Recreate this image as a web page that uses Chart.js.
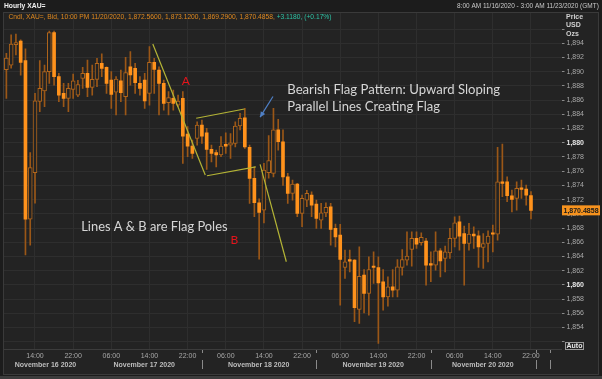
<!DOCTYPE html>
<html>
<head>
<meta charset="utf-8">
<script src="https://cdn.jsdelivr.net/npm/chart.js@4"></script>
<style>
html, body { margin: 0; padding: 0; background: #1e1e1e; }
canvas { display: block; }
</style>
</head>
<body>
<canvas id="chart" width="602" height="379"></canvas>
<script>
// hourly candles, 8:00 Nov 16 -> 22:00 Nov 20 (GMT)
const openP = [1890.3, 1890.9, 1893.8, 1894.3, 1891.55, 1869.25, 1875.8, 1885.8, 1887.3, 1890.0,
    1895.5, 1889.3, 1886.95, 1886.25, 1887.5, 1886.7, 1889.06, 1889.77, 1887.8, 1888.92,
    1891.18, 1890.6, 1888.83, 1887.1, 1888.73, 1886.5, 1890.7, 1890.47, 1888.36, 1888.83,
    1886.95, 1891.32, 1890.24, 1888.36, 1885.64, 1886.25, 1885.3, 1886.25, 1881.22, 1879.53,
    1880.6, 1882.49, 1881.41, 1879.06, 1878.6, 1878.27, 1879.77, 1879.67, 1879.9, 1882.35,
    1883.52, 1879.34, 1874.98, 1871.55, 1870.5, 1875.8, 1875.68, 1881.8, 1880.14, 1875.2,
    1872.87, 1874.18, 1870.05, 1871.93, 1872.63, 1871.36, 1869.1, 1870.14, 1870.98, 1867.94,
    1867.0, 1862.44, 1863.57, 1863.48, 1856.53, 1861.36, 1858.78, 1862.63, 1862.44, 1860.43,
    1858.31, 1859.72, 1859.25, 1862.44, 1863.48, 1864.98, 1866.53, 1865.92, 1866.15, 1863.0,
    1862.77, 1864.79, 1863.71, 1864.51, 1866.53, 1868.88, 1867.23, 1865.82, 1867.14, 1866.9,
    1865.26, 1865.82, 1867.33, 1867.14, 1874.5, 1874.5, 1872.54, 1872.16, 1873.66, 1873.48,
    1872.56];
const highP = [1892.6, 1895.2, 1895.3, 1894.5, 1893.2, 1878.6, 1886.95, 1891.55, 1890.94, 1895.73,
    1895.73, 1889.77, 1888.36, 1888.36, 1889.67, 1888.8, 1890.6, 1891.65, 1890.94, 1891.88,
    1892.5, 1890.7, 1890.0, 1889.3, 1890.24, 1892.02, 1892.82, 1891.18, 1889.3, 1889.77,
    1893.52, 1891.88, 1890.7, 1888.83, 1887.2, 1887.4, 1886.7, 1887.2, 1882.26, 1880.37,
    1882.96, 1883.2, 1882.02, 1879.67, 1878.97, 1880.85, 1881.41, 1881.3, 1882.96, 1884.13,
    1884.84, 1879.67, 1876.6, 1872.1, 1877.1, 1881.0, 1884.84, 1883.3, 1881.8, 1875.7,
    1874.74, 1874.3, 1872.63, 1873.3, 1873.1, 1871.93, 1871.46, 1871.55, 1871.46, 1868.55,
    1868.5, 1864.9, 1864.9, 1863.57, 1865.35, 1862.16, 1863.95, 1864.65, 1863.95, 1862.16,
    1861.13, 1862.16, 1863.57, 1864.98, 1867.47, 1867.47, 1867.47, 1867.33, 1866.53, 1864.65,
    1867.47, 1865.12, 1865.45, 1867.94, 1869.58, 1869.67, 1868.27, 1868.64, 1868.17, 1867.61,
    1867.23, 1867.61, 1868.41, 1879.34, 1879.81, 1875.2, 1873.34, 1874.5, 1874.74, 1874.04,
    1873.12];
const lowP = [1886.25, 1890.5, 1892.35, 1889.5, 1864.2, 1865.6, 1871.5, 1884.37, 1885.07, 1888.36,
    1888.12, 1885.78, 1885.07, 1884.37, 1886.25, 1886.5, 1887.65, 1886.5, 1886.7, 1887.9,
    1889.3, 1886.95, 1884.84, 1883.9, 1885.78, 1883.9, 1888.12, 1886.95, 1886.7, 1884.84,
    1885.3, 1886.95, 1883.9, 1884.6, 1883.9, 1884.6, 1885.07, 1877.1, 1878.03, 1877.8,
    1879.67, 1879.9, 1876.25, 1877.3, 1876.6, 1878.03, 1878.5, 1877.8, 1879.4, 1881.8,
    1879.2, 1871.46, 1869.6, 1863.6, 1868.7, 1875.0, 1875.2, 1878.97, 1874.0, 1871.46,
    1871.93, 1869.58, 1868.17, 1871.0, 1869.58, 1867.94, 1867.94, 1869.58, 1865.6, 1865.35,
    1857.14, 1860.9, 1861.83, 1854.8, 1854.56, 1856.06, 1855.73, 1860.2, 1851.74, 1856.43,
    1857.0, 1858.31, 1858.31, 1861.36, 1862.77, 1862.63, 1865.12, 1865.59, 1859.96, 1860.43,
    1862.07, 1861.13, 1861.83, 1863.71, 1865.35, 1864.88, 1859.96, 1864.88, 1865.12, 1862.44,
    1862.3, 1863.24, 1864.65, 1866.3, 1872.4, 1871.69, 1870.28, 1870.52, 1872.16, 1871.22,
    1869.29];
const closeP = [1891.9, 1893.9, 1893.9, 1891.3, 1869.25, 1876.5, 1885.9, 1887.65, 1890.0, 1895.5,
    1889.3, 1886.7, 1886.25, 1887.65, 1888.7, 1888.2, 1889.77, 1887.8, 1888.92, 1891.18,
    1890.47, 1888.36, 1886.8, 1888.97, 1887.04, 1889.86, 1889.53, 1888.45, 1887.65, 1885.87,
    1891.32, 1890.33, 1888.36, 1885.54, 1886.34, 1885.54, 1885.87, 1880.94, 1879.53, 1878.5,
    1882.49, 1880.94, 1879.06, 1878.5, 1878.27, 1879.53, 1879.53, 1880.0, 1882.35, 1883.43,
    1879.4, 1874.98, 1871.55, 1870.2, 1876.15, 1877.5, 1881.8, 1880.14, 1875.2, 1872.87,
    1874.18, 1870.05, 1872.16, 1872.87, 1871.22, 1869.35, 1870.14, 1870.9, 1867.8, 1866.76,
    1863.57, 1863.24, 1863.34, 1856.8, 1861.2, 1858.78, 1862.16, 1862.44, 1860.28, 1858.31,
    1859.72, 1859.25, 1862.54, 1863.57, 1864.04, 1866.53, 1865.73, 1866.67, 1862.77, 1862.77,
    1864.79, 1863.38, 1864.65, 1866.53, 1868.73, 1866.86, 1865.82, 1867.14, 1866.9, 1865.35,
    1865.82, 1866.86, 1867.14, 1874.5, 1874.27, 1872.54, 1872.02, 1873.57, 1873.43, 1872.63,
    1870.4858];

const timeTicks = [6, 14, 22, 30, 38, 46, 54, 62, 70, 78, 86, 94, 102, 110];
const timeLabels = ["14:00", "22:00", "06:00", "14:00", "22:00", "06:00", "14:00",
    "22:00", "06:00", "14:00", "22:00", "06:00", "14:00", "22:00"];
const dateCenters = [8.2, 28.9, 52.9, 76.9, 99.9];
const dateLabels = ["November 16 2020", "November 17 2020", "November 18 2020",
    "November 19 2020", "November 20 2020"];
const daySeparators = [41, 65, 89, 111, 114];
const priceTicks = [1852, 1854, 1856, 1858, 1860, 1862, 1864, 1866, 1868, 1870, 1872, 1874,
    1876, 1878, 1880, 1882, 1884, 1886, 1888, 1890, 1892, 1894, 1896];
const boldPrices = [1860, 1880];

// annotations (index, price)
const poleA = [{ x: 30.7, y: 1893.9 }, { x: 41.7, y: 1875.45 }];
const flagTop = [{ x: 39.8, y: 1883.45 }, { x: 49.9, y: 1884.75 }];
const flagBottom = [{ x: 42.05, y: 1875.35 }, { x: 52.3, y: 1876.6 }];
const poleB = [{ x: 53.2, y: 1876.95 }, { x: 58.7, y: 1863.25 }];
const arrow = [{ x: 55.9, y: 1886.5 }, { x: 53.2, y: 1883.6 }];

const FONT = "'Liberation Sans', Arial, sans-serif";
const NOTE_FONT = "Lato, 'Open Sans', sans-serif";

const wicks = [], bullBodies = [], bearBodies = [];
openP.forEach((o, i) => {
    wicks.push({ x: i, y: [lowP[i], highP[i]] });
    if (closeP[i] >= o) bullBodies.push({ x: i, y: [o, closeP[i]] });
    else bearBodies.push({ x: i, y: [closeP[i], o] });
});

const isBold = (c) => !!(c && c.tick && boldPrices.includes(c.tick.value));

function fitFont(ctx, text, width, weight, family) {
    ctx.font = weight + " 20px " + family;
    const size = 20 * width / ctx.measureText(text).width;
    ctx.font = weight + " " + size + "px " + family;
}

const framePlugin = {
    id: "frame",
    beforeDraw(chart) {
        const ctx = chart.ctx;
        ctx.save();
        ctx.fillStyle = "#1c1c1c";
        ctx.fillRect(0, 0, 602, 379);
        ctx.fillStyle = "#232323";
        ctx.fillRect(3, 12, 596, 363);
        ctx.fillStyle = "#3c3c3c";
        ctx.fillRect(0, 376, 602, 3);
        ctx.strokeStyle = "#3a3a3a";
        ctx.lineWidth = 1;
        ctx.strokeRect(3.5, 12.5, 595, 362);
        ctx.restore();
    },
};

const overlayPlugin = {
    id: "overlay",
    afterDraw(chart) {
        const ctx = chart.ctx;
        const xs = chart.scales.x, ys = chart.scales.y;
        const area = chart.chartArea;
        const px = (v) => xs.getPixelForValue(v);
        const py = (v) => ys.getPixelForValue(v);
        ctx.save();

        // header
        ctx.textBaseline = "middle";
        ctx.fillStyle = "#f0f0f0";
        fitFont(ctx, "Hourly XAU=", 41.5, "bold", FONT);
        ctx.fillText("Hourly XAU=", 4, 6);
        ctx.fillStyle = "#c8c8c8";
        const rng = "8:00 AM 11/16/2020 - 3:00 AM 11/23/2020 (GMT)";
        fitFont(ctx, rng, 142, "normal", FONT);
        ctx.fillText(rng, 457, 6);

        // legend line
        const l1 = "Cndl, XAU=, Bid, 10:00 PM 11/20/2020, 1,872.5600, 1,873.1200, 1,869.2900, 1,870.4858, ";
        const l2 = "+3.1180, (+0.17%)";
        fitFont(ctx, l1 + l2, 324, "normal", FONT);
        ctx.fillStyle = "#e0891f";
        ctx.fillText(l1, 8.5, 17);
        ctx.fillStyle = "#2ec4a6";
        ctx.fillText(l2, 8.5 + ctx.measureText(l1).width, 17);

        // axis titles
        ctx.fillStyle = "#d0d0d0";
        ctx.font = "bold 7px " + FONT;
        ctx.fillText("Price", 566, 17);
        ctx.fillText("USD", 566, 25.5);
        ctx.fillText("Ozs", 566, 34);

        // last price tag
        const yl = py(closeP[closeP.length - 1]);
        ctx.fillStyle = "#f7931e";
        ctx.fillRect(562, yl - 5, 38, 10);
        ctx.fillStyle = "#1a1a1a";
        ctx.font = "bold 7px " + FONT;
        ctx.fillText("1,870.4858", 563.5, yl + 0.5);

        // Auto button
        ctx.strokeStyle = "#9a9a9a";
        ctx.strokeRect(565.5, 342.5, 18, 7);
        ctx.fillStyle = "#e8e8e8";
        ctx.font = "bold 7px " + FONT;
        ctx.fillText("Auto", 566.5, 346.5);

        // date row
        ctx.textAlign = "center";
        ctx.fillStyle = "#bdbdbd";
        dateLabels.forEach((d, i) => ctx.fillText(d, px(dateCenters[i]), 365));
        ctx.strokeStyle = "#8a8a8a";
        daySeparators.forEach((s) => {
            const x = Math.round(px(s)) + 0.5;
            ctx.beginPath();
            ctx.moveTo(x, area.bottom + 1);
            ctx.lineTo(x, area.bottom + 4);
            ctx.moveTo(x, 360);
            ctx.lineTo(x, 369);
            ctx.stroke();
        });

        // arrow head
        const ax0 = px(arrow[0].x), ay0 = py(arrow[0].y);
        const ax1 = px(arrow[1].x), ay1 = py(arrow[1].y);
        const ang = Math.atan2(ay1 - ay0, ax1 - ax0);
        ctx.fillStyle = "#4f80c6";
        ctx.beginPath();
        ctx.moveTo(ax1, ay1);
        ctx.lineTo(ax1 - 6 * Math.cos(ang - 0.45), ay1 - 6 * Math.sin(ang - 0.45));
        ctx.lineTo(ax1 - 6 * Math.cos(ang + 0.45), ay1 - 6 * Math.sin(ang + 0.45));
        ctx.closePath();
        ctx.fill();

        // notes
        ctx.textAlign = "left";
        ctx.fillStyle = "#d6d6d6";
        const n1 = "Bearish Flag Pattern: Upward Sloping";
        fitFont(ctx, n1, 213, "normal", NOTE_FONT);
        ctx.fillText(n1, px(58.9), py(1887.45));
        const n2 = "Parallel Lines Creating Flag";
        fitFont(ctx, n2, 153, "normal", NOTE_FONT);
        ctx.fillText(n2, px(58.9), py(1885.0));
        const n3 = "Lines A & B are Flag Poles";
        fitFont(ctx, n3, 146.5, "normal", NOTE_FONT);
        ctx.fillText(n3, px(15.7), py(1868.1));

        ctx.textAlign = "center";
        ctx.fillStyle = "#e3141b";
        ctx.font = "normal 12px " + NOTE_FONT;
        ctx.fillText("A", px(37.6), py(1888.7));
        ctx.fillText("B", px(47.8), py(1866.3));
        ctx.restore();
    },
};

const noteLine = (data, color) => ({
    type: "line",
    data: data,
    borderColor: color,
    borderWidth: 1.2,
    pointRadius: 0,
    order: 0,
});

new Chart(document.getElementById("chart"), {
    type: "bar",
    data: {
        datasets: [
            {
                data: wicks,
                backgroundColor: "#9b5717",
                barThickness: 1,
                grouped: false,
                order: 3,
            },
            {
                data: bullBodies,
                backgroundColor: "#232323",
                borderColor: "#b2661b",
                borderWidth: 1,
                borderSkipped: false,
                barThickness: 4,
                minBarLength: 2,
                grouped: false,
                order: 2,
            },
            {
                data: bearBodies,
                backgroundColor: "#ff921c",
                barThickness: 3,
                minBarLength: 1,
                grouped: false,
                order: 2,
            },
            noteLine(poleA, "#b4b436"),
            noteLine(flagTop, "#b4b436"),
            noteLine(flagBottom, "#b4b436"),
            noteLine(poleB, "#b4b436"),
            noteLine(arrow, "#4f80c6"),
        ],
    },
    options: {
        responsive: false,
        animation: false,
        events: [],
        layout: { padding: { left: 4, top: 13, right: 0, bottom: 0 } },
        plugins: { legend: { display: false }, tooltip: { enabled: false } },
        scales: {
            x: {
                type: "linear",
                min: -0.5,
                max: 116.4,
                offset: false,
                afterBuildTicks: (s) => { s.ticks = timeTicks.map((v) => ({ value: v })); },
                afterFit: (s) => { s.height = 30; },
                grid: { color: "#2e2e2e", drawTicks: false, offset: false },
                border: { color: "#3c3c3c" },
                ticks: {
                    autoSkip: false,
                    maxRotation: 0,
                    padding: 3,
                    color: "#a8a8a8",
                    font: { family: FONT, size: 7 },
                    callback: (v) => timeLabels[timeTicks.indexOf(v)] || "",
                },
            },
            y: {
                position: "right",
                min: 1850.97,
                max: 1898.26,
                beginAtZero: false,
                afterBuildTicks: (s) => { s.ticks = priceTicks.map((v) => ({ value: v })); },
                afterFit: (s) => { s.width = 40.5; },
                grid: { color: "#2e2e2e", tickLength: 3, tickColor: "#8a8a8a" },
                border: { display: false },
                ticks: {
                    padding: 2,
                    color: (c) => isBold(c) ? "#e6e6e6" : "#a8a8a8",
                    font: (c) => ({ family: FONT, size: 7, weight: isBold(c) ? "bold" : "normal" }),
                    callback: (v) => (v < 1854 || v > 1894) ? "" : v.toLocaleString("en-US"),
                },
            },
        },
    },
    plugins: [framePlugin, overlayPlugin],
});
</script>
</body>
</html>
